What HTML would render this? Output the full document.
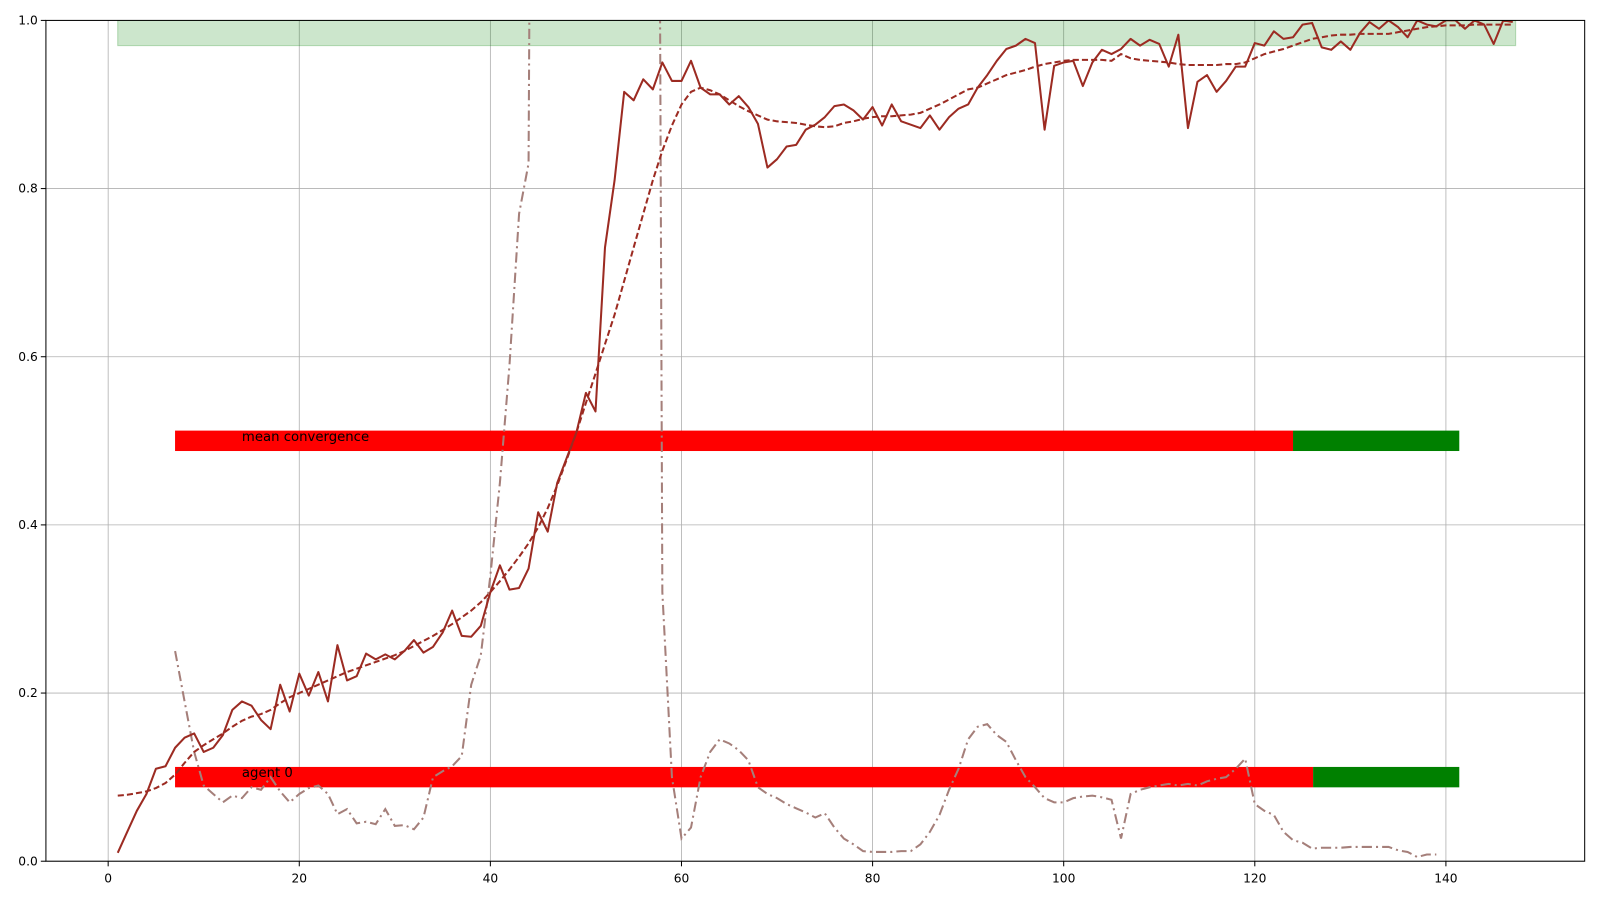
<!DOCTYPE html>
<html><head><meta charset="utf-8"><style>
body{margin:0;background:#fff}
svg{display:block;font-family:"DejaVu Sans","Liberation Sans",sans-serif}
</style></head><body>
<svg id="chart" width="1600" height="900">
<defs><clipPath id="clip"><rect x="45" y="20" width="1508" height="824"/></clipPath></defs>
<g transform="scale(1.0204)">
<g id="grid"></g>
<g id="marks" clip-path="url(#clip)"></g>
<rect x="45" y="20" width="1508" height="824" fill="none" stroke="#000" stroke-width="1"/>
<g id="ticks"></g>
</g>
</svg>
<script>
const xTicks=[0,20,40,60,80,100,120,140];
const yTicks=[0,0.2,0.4,0.6,0.8,1.0];
const yTickLabels=["0.0","0.2","0.4","0.6","0.8","1.0"];
const rawValues=[0.01,0.035,0.06,0.08,0.11,0.113,0.135,0.147,0.152,0.13,0.135,0.15,0.18,0.19,0.185,0.168,0.157,0.21,0.178,0.223,0.197,0.225,0.19,0.257,0.215,0.22,0.247,0.24,0.246,0.24,0.25,0.263,0.248,0.255,0.272,0.298,0.268,0.267,0.28,0.32,0.352,0.323,0.325,0.348,0.415,0.392,0.45,0.48,0.51,0.557,0.535,0.73,0.81,0.915,0.905,0.93,0.918,0.95,0.928,0.928,0.952,0.92,0.912,0.912,0.9,0.91,0.897,0.877,0.825,0.835,0.85,0.852,0.87,0.876,0.885,0.898,0.9,0.893,0.882,0.897,0.875,0.9,0.88,0.876,0.872,0.887,0.87,0.885,0.895,0.9,0.92,0.935,0.952,0.966,0.97,0.978,0.973,0.87,0.946,0.95,0.952,0.922,0.95,0.965,0.96,0.966,0.978,0.97,0.977,0.972,0.945,0.983,0.872,0.927,0.935,0.915,0.928,0.945,0.945,0.973,0.97,0.987,0.978,0.98,0.995,0.997,0.968,0.965,0.975,0.965,0.985,0.998,0.99,1.0,0.992,0.98,1.0,0.995,0.993,1.0,1.0,0.99,1.0,0.995,0.972,1.0,0.998];
const smoothValues=[0.078,0.079,0.081,0.083,0.087,0.093,0.103,0.117,0.13,0.138,0.145,0.152,0.16,0.167,0.172,0.175,0.18,0.188,0.195,0.2,0.205,0.21,0.215,0.22,0.225,0.229,0.233,0.237,0.241,0.245,0.25,0.256,0.262,0.268,0.275,0.282,0.29,0.298,0.308,0.32,0.333,0.347,0.362,0.378,0.397,0.42,0.447,0.478,0.51,0.545,0.58,0.615,0.65,0.69,0.73,0.77,0.81,0.845,0.875,0.9,0.915,0.92,0.917,0.912,0.905,0.898,0.892,0.887,0.882,0.88,0.879,0.878,0.876,0.874,0.873,0.874,0.878,0.88,0.883,0.885,0.886,0.886,0.887,0.888,0.89,0.895,0.9,0.906,0.912,0.918,0.92,0.925,0.93,0.935,0.938,0.941,0.945,0.948,0.95,0.952,0.953,0.953,0.953,0.953,0.952,0.96,0.955,0.953,0.952,0.951,0.95,0.948,0.947,0.947,0.947,0.947,0.948,0.948,0.95,0.955,0.96,0.963,0.966,0.97,0.974,0.978,0.98,0.982,0.983,0.983,0.984,0.984,0.984,0.984,0.986,0.988,0.99,0.992,0.993,0.994,0.994,0.994,0.995,0.995,0.995,0.995,0.995];
const agentStart=7;
const agentValues=[0.25,0.19,0.13,0.09,0.08,0.07,0.078,0.075,0.088,0.085,0.1,0.083,0.07,0.08,0.087,0.09,0.08,0.056,0.062,0.045,0.047,0.044,0.062,0.042,0.043,0.038,0.052,0.1,0.107,0.113,0.125,0.21,0.245,0.34,0.45,0.59,0.77,0.83,3,3,3,3,3,3,3,3,3,3,3,3,3.2,0.32,0.1,0.027,0.04,0.1,0.13,0.145,0.14,0.132,0.12,0.088,0.08,0.075,0.068,0.063,0.058,0.052,0.057,0.04,0.027,0.02,0.012,0.011,0.011,0.011,0.012,0.012,0.02,0.035,0.055,0.085,0.11,0.145,0.16,0.163,0.15,0.142,0.12,0.1,0.088,0.075,0.07,0.07,0.075,0.077,0.078,0.076,0.073,0.027,0.08,0.085,0.088,0.09,0.092,0.09,0.092,0.09,0.095,0.098,0.1,0.11,0.122,0.068,0.06,0.055,0.035,0.025,0.022,0.015,0.016,0.016,0.016,0.017,0.017,0.017,0.017,0.017,0.013,0.011,0.005,0.008,0.008];
const barLabels=["mean convergence","agent 0"];
const barY=[0.5,0.1];
const barStart=[7,7];
const barSwitch=[124,126.1];
const barEnd=[141.4,141.4];
const bandRange=[1,147.3,0.97,1.0];

const NS="http://www.w3.org/2000/svg";
const X=v=>106+v*(1417-106)/140;
const Y=v=>844-v*824;
function mk(tag,attrs,parent){const e=document.createElementNS(NS,tag);for(const k in attrs)e.setAttribute(k,attrs[k]);parent.appendChild(e);return e;}
const grid=document.getElementById('grid'),marks=document.getElementById('marks'),ticks=document.getElementById('ticks');
xTicks.forEach(t=>{
 const l=mk('line',{x1:X(t),x2:X(t),y1:20,y2:844,stroke:'#b0b0b0','stroke-width':0.8},grid);
 
 
 mk('line',{x1:X(t),x2:X(t),y1:844,y2:849,stroke:'#000'},ticks);
 const tx=mk('text',{x:X(t),y:865,'text-anchor':'middle','font-size':12},ticks);tx.textContent=t;
 
 
});
yTicks.forEach((t,i)=>{
 const l=mk('line',{x1:45,x2:1553,y1:Y(t),y2:Y(t),stroke:'#b0b0b0','stroke-width':0.8},grid);
 
 
 mk('line',{x1:40,x2:45,y1:Y(t),y2:Y(t),stroke:'#000'},ticks);
 const tx=mk('text',{x:37,y:Y(t)+4,'text-anchor':'end','font-size':12},ticks);tx.textContent=yTickLabels[i];
 
 
});
const band=mk('rect',{x:X(bandRange[0]),y:Y(bandRange[3]),width:X(bandRange[1])-X(bandRange[0]),height:Y(bandRange[2])-Y(bandRange[3]),fill:'rgba(0,128,0,0.2)',stroke:'rgba(0,128,0,0.25)'},marks);


barLabels.forEach((lab,i)=>{
 const r=mk('rect',{x:X(barStart[i]),y:Y(barY[i])-10,width:X(barSwitch[i])-X(barStart[i]),height:20,fill:'#ff0000'},marks);
 
 
 const g=mk('rect',{x:X(barSwitch[i]),y:Y(barY[i])-10,width:X(barEnd[i])-X(barSwitch[i]),height:20,fill:'#008000'},marks);
 
 
 const t=mk('text',{x:X(14),y:Y(barY[i])+0,'font-size':13,fill:'#000'},marks);t.textContent=lab;
 
 
});
function path(vals,start){return vals.map((v,i)=>(i?'L':'M')+X(start+i).toFixed(1)+','+Y(v).toFixed(1)).join('');}
const ag=mk('path',{d:path(agentValues,agentStart),fill:'none',stroke:'#a57f7a','stroke-width':2,'stroke-dasharray':'10,4,2,4'},marks);


const sm=mk('path',{d:path(smoothValues,1),fill:'none',stroke:'#9c2b22','stroke-width':2,'stroke-dasharray':'6,3'},marks);


const rw=mk('path',{d:path(rawValues,1),fill:'none',stroke:'#9c2b22','stroke-width':2,'stroke-linejoin':'round'},marks);


</script>
</body></html>
